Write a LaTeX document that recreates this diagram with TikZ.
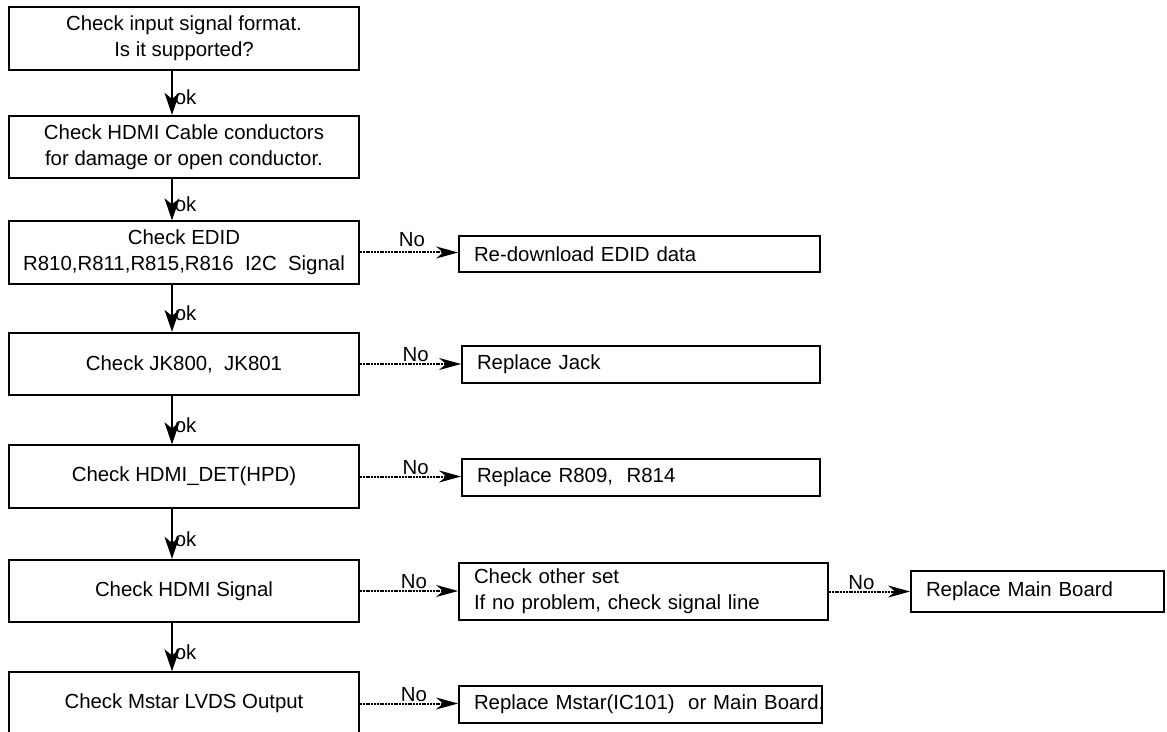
\documentclass[tikz,border=0pt]{standalone}
\usepackage{fontspec}
\setmainfont{Liberation Sans}
\usetikzlibrary{arrows.meta}

\tikzset{
  chkbox/.style={draw, line width=0.9pt, minimum width=175pt, minimum height=31.25pt, inner sep=0pt, align=center},
  fixbox/.style={draw, line width=0.9pt, inner xsep=7.5pt, inner ysep=0pt, align=left},
  okarrow/.style={line width=0.9pt, -{Stealth[length=11pt,width=7.5pt,inset=3pt]}},
  noarrow/.style={line width=1pt, dash pattern=on 1pt off 0.4pt, -{Stealth[length=11pt,width=6pt,inset=3.5pt]}},
}

\begin{document}
\begin{tikzpicture}[x=0.5pt, y=-0.5pt, font=\fontsize{10.2}{13}\selectfont]
    % Page frame
    \clip (0,0) rectangle (1167,732);

    % Checks, top to bottom
    \node[chkbox] (b1) at (184,38.5) {Check input signal format.\\Is it supported?};
    \node[chkbox] (b2) at (184,147) {Check HDMI Cable conductors\\for damage or open conductor.};
    \node[chkbox] (b3) at (184,252.5) {Check EDID\\R810,R811,R815,R816~ I2C~ Signal};
    \node[chkbox] (b4) at (184,364) {Check JK800,~ JK801};
    \node[chkbox] (b5) at (184,476.5) {Check HDMI\_DET(HPD)};
    \node[chkbox] (b6) at (184,591) {Check HDMI Signal};
    \node[chkbox] (b7) at (184,703.5) {Check Mstar LVDS Output};

    % Repairs
    \node[fixbox, text width=165.5pt, minimum height=18pt] (f3) at (639.5,254) {Re-download EDID data};
    \node[fixbox, text width=164pt, minimum height=18.5pt] (f4) at (641,364.5) {Replace Jack};
    \node[fixbox, text width=164pt, minimum height=18.5pt] (f5) at (641,477.5) {Replace R809,~ R814};
    \node[fixbox, text width=169.5pt, minimum height=28.5pt] (f6) at (643.5,591.5) {Check other set\\If no problem, check signal line};
    \node[fixbox, text width=111.5pt, minimum height=20.5pt] (f8) at (1037.5,591.5) {Replace Main Board};
    \node[fixbox, text width=166.5pt, minimum height=18.5pt] (f7) at (640.5,704.5) {Replace~Mstar(IC101)~~or~Main~Board.};

    % ok path
    \draw[okarrow] ([xshift=-6pt]b1.south) -- ([xshift=-6pt]b2.north) node[pos=0.6, right, inner sep=1pt] {ok};
    \draw[okarrow] ([xshift=-6pt]b2.south) -- ([xshift=-6pt]b3.north) node[pos=0.6, right, inner sep=1pt] {ok};
    \draw[okarrow] ([xshift=-6pt]b3.south) -- ([xshift=-6pt]b4.north) node[pos=0.6, right, inner sep=1pt] {ok};
    \draw[okarrow] ([xshift=-6pt]b4.south) -- ([xshift=-6pt]b5.north) node[pos=0.6, right, inner sep=1pt] {ok};
    \draw[okarrow] ([xshift=-6pt]b5.south) -- ([xshift=-6pt]b6.north) node[pos=0.6, right, inner sep=1pt] {ok};
    \draw[okarrow] ([xshift=-6pt]b6.south) -- ([xshift=-6pt]b7.north) node[pos=0.6, right, inner sep=1pt] {ok};

    % No branches
    \draw[noarrow] (b3.east) -- (b3.east -| f3.west) node[pos=0.53, above, inner sep=2.5pt] {No};
    \draw[noarrow] (b4.east) -- (b4.east -| f4.west) node[pos=0.55, above, inner sep=0.5pt] {No};
    \draw[noarrow] (b5.east) -- (b5.east -| f5.west) node[pos=0.55, above, inner sep=0.5pt] {No};
    \draw[noarrow] (b6.east) -- (b6.east -| f6.west) node[pos=0.55, above, inner sep=0.5pt] {No};
    \draw[noarrow] (b7.east) -- (b7.east -| f7.west) node[pos=0.55, above, inner sep=0.5pt] {No};
    \draw[noarrow] (f6.east) -- (f8.west) node[pos=0.4, above, inner sep=0.5pt] {No};
\end{tikzpicture}
\end{document}
